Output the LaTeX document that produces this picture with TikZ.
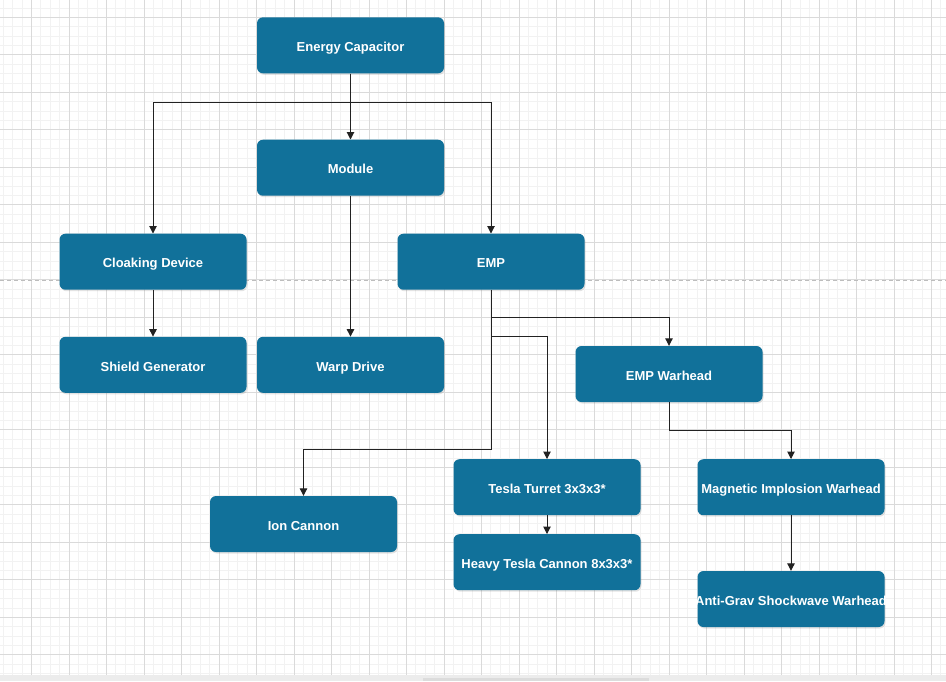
\documentclass[tikz,border=0pt]{standalone}
\usepackage{fontspec}
\setmainfont{Liberation Sans}
\usetikzlibrary{arrows.meta,shadows}
\definecolor{nodeblue}{HTML}{11719A}
\definecolor{majorgrid}{HTML}{DADADA}
\definecolor{minorgrid}{HTML}{F2F2F2}
\definecolor{pagebreak}{HTML}{BDBDBD}
\definecolor{scrollbg}{HTML}{ECECEC}
\definecolor{scrollthumb}{HTML}{DCDCDC}
\definecolor{connclr}{HTML}{222222}
\tikzset{
  box/.style={draw=none, fill=nodeblue, rounded corners=6pt,
    minimum width=187pt, minimum height=56pt, inner sep=0pt,
    text height=12.5pt, text depth=0pt,
    text=white, font=\fontsize{13}{15}\selectfont\bfseries,
    drop shadow={opacity=0.22, shadow xshift=1pt, shadow yshift=-1.5pt}},
  conn/.style={draw=connclr, line width=1pt, -{Triangle[length=7.5pt,width=7.5pt]}},
  minorline/.style={draw=minorgrid, line width=0.8pt},
  majorline/.style={draw=majorgrid, line width=1pt}
}
\begin{document}
\begin{tikzpicture}[x=1pt,y=-1pt]
\useasboundingbox (0,0) rectangle (946,681);
\fill[white] (0,0) rectangle (946,681);
% minor grid
\foreach \i in {0,...,101} {
  \pgfmathsetmacro\xx{3.375+9.375*\i}
  \draw[minorline] (\xx,0) -- (\xx,675);
}
\foreach \i in {0,...,72} {
  \pgfmathsetmacro\yy{-1.45+9.375*\i}
  \draw[minorline] (0,\yy) -- (946,\yy);
}
% major grid
\foreach \i in {0,...,25} {
  \pgfmathsetmacro\xx{31.5+37.5*\i}
  \draw[majorline] (\xx,0) -- (\xx,675);
}
\foreach \i in {0,...,17} {
  \pgfmathsetmacro\yy{17.3+37.5*\i}
  \draw[majorline] (0,\yy) -- (946,\yy);
}
% page break line
\draw[pagebreak, line width=1pt, dash pattern=on 4pt off 3pt] (0,280) -- (946,280);
% scrollbar
\fill[scrollbg] (0,675) rectangle (946,681);
\fill[scrollthumb] (423,678) rectangle (649,681);

% nodes
\node[box] (EC) at (350.5,45.3) {Energy Capacitor};
\node[box] (Module) at (350.5,167.7) {Module};
\node[box] (Cloak) at (153,261.7) {Cloaking Device};
\node[box] (EMP) at (491,261.7) {EMP};
\node[box] (Shield) at (153,364.8) {Shield Generator};
\node[box] (Warp) at (350.5,364.8) {Warp Drive};
\node[box] (EMPW) at (669,374) {EMP Warhead};
\node[box] (Ion) at (303.5,524) {Ion Cannon};
\node[box] (Tesla) at (547,487.2) {Tesla Turret 3x3x3*};
\node[box] (Heavy) at (547,562.2) {Heavy Tesla Cannon 8x3x3*};
\node[box] (Mag) at (791,487.2) {Magnetic Implosion Warhead};
\node[box] (Anti) at (791,599) {\makebox[0pt][c]{Anti-Grav Shockwave Warhead}};

% routing coordinates
\coordinate (j1) at (0,102);
\coordinate (r1) at (0,317.7);
\coordinate (r2) at (0,336.7);
\coordinate (r3) at (0,449.3);
\coordinate (r4) at (0,430);

% connectors
\draw[conn] (EC.south) -- (Module.north);
\draw[conn] (EC.south) -- (EC.south |- j1) -| (Cloak.north);
\draw[conn] (EC.south) -- (EC.south |- j1) -| (EMP.north);
\draw[conn] (Module.south) -- (Warp.north);
\draw[conn] (Cloak.south) -- (Shield.north);
\draw[conn] (EMP.south) -- (EMP.south |- r1) -| (EMPW.north);
\draw[conn] (EMP.south) -- (EMP.south |- r2) -| (Tesla.north);
\draw[conn] (EMP.south) -- (EMP.south |- r3) -| (Ion.north);
\draw[conn] (EMPW.south) -- (EMPW.south |- r4) -| (Mag.north);
\draw[conn] (Tesla.south) -- (Heavy.north);
\draw[conn] (Mag.south) -- (Anti.north);
\end{tikzpicture}
\end{document}
